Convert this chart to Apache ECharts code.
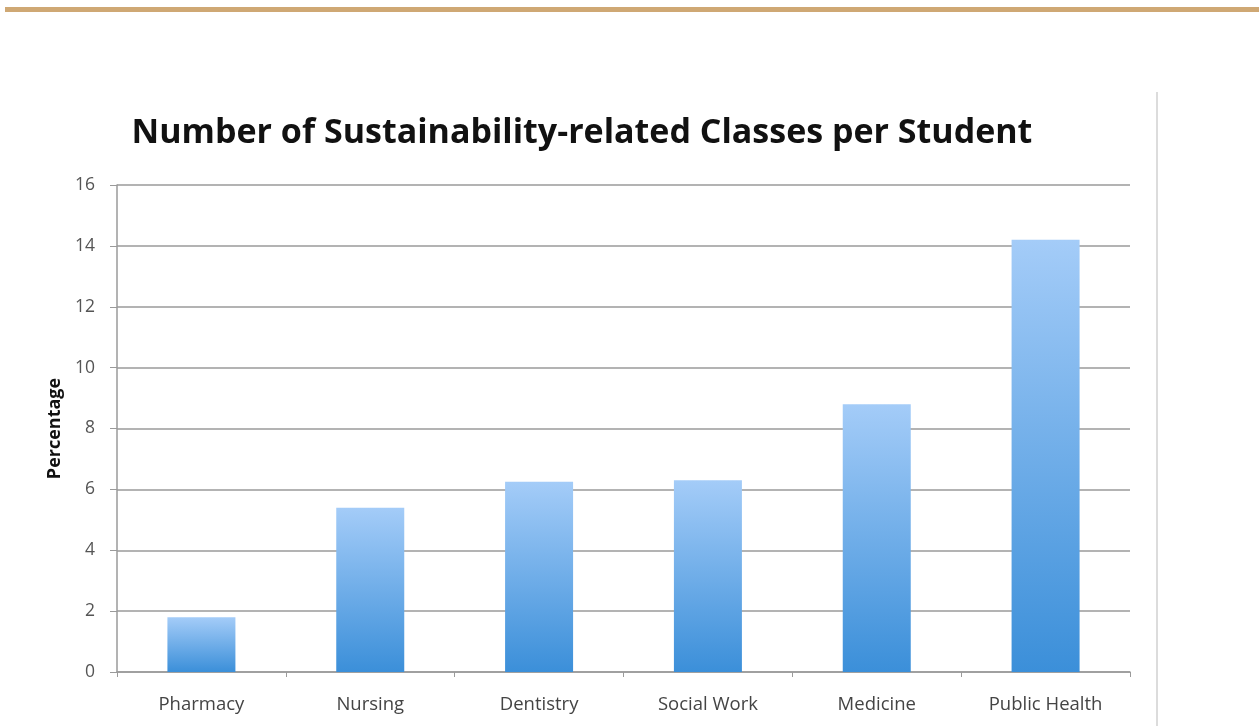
<!DOCTYPE html>
<html>
<head>
<meta charset="utf-8">
<script src="https://cdn.jsdelivr.net/npm/echarts@6/dist/echarts.min.js"></script>
<style>
  html, body { margin: 0; padding: 0; background: #fff; }
  #topbar { position: absolute; left: 5px; top: 7px; width: 1254px; height: 5px; background: #cfa874; }
  #divider { position: absolute; left: 1156px; top: 92px; width: 2px; height: 634px; background: #dcdcdc; }
  #chart { position: absolute; left: 0; top: 0; width: 1259px; height: 726px; }
</style>
</head>
<body>
<div id="topbar"></div>
<div id="divider"></div>
<div id="chart"></div>
<script>
// Schools surveyed and their sustainability-related classes per student
const categories = ['Pharmacy', 'Nursing', 'Dentistry', 'Social Work', 'Medicine', 'Public Health'];
const classesPerStudent = [1.8, 5.4, 6.25, 6.3, 8.8, 14.2];
const yTicks = [0, 2, 4, 6, 8, 10, 12, 14, 16];

const chart = echarts.init(document.getElementById('chart'));
chart.setOption({
  animation: false,
  title: {
    text: 'Number of Sustainability-related Classes per Student',
    left: 577,
    textAlign: 'center',
    top: 111,
    textStyle: { fontFamily: 'Open Sans', fontWeight: 'bold', fontSize: 34, color: '#111' }
  },
  grid: { left: 117, right: 129, top: 185, bottom: 54 },
  xAxis: {
    type: 'category',
    data: categories,
    axisLine: { lineStyle: { color: '#9a9a9a', width: 1.5 } },
    axisTick: { show: true, length: 5, lineStyle: { color: '#9a9a9a' } },
    axisLabel: { fontFamily: 'Open Sans', fontSize: 18.5, color: '#444', margin: 23 }
  },
  yAxis: {
    type: 'value',
    min: yTicks[0],
    max: yTicks[yTicks.length - 1],
    interval: 2,
    name: 'Percentage',
    nameLocation: 'middle',
    nameGap: 50,
    nameRotate: 90,
    nameTextStyle: { fontFamily: 'Open Sans', fontWeight: 'bold', fontSize: 18, color: '#111' },
    axisLine: { show: true, lineStyle: { color: '#9a9a9a', width: 1.5 } },
    axisTick: { show: true, length: 7, lineStyle: { color: '#9a9a9a' } },
    axisLabel: { fontFamily: 'Open Sans', fontSize: 17.5, color: '#555', margin: 22 },
    splitLine: { lineStyle: { color: '#9a9a9a', width: 1.5 } }
  },
  series: [{
    type: 'bar',
    data: classesPerStudent,
    barWidth: 68,
    itemStyle: {
      color: new echarts.graphic.LinearGradient(0, 0, 0, 1, [
        { offset: 0, color: '#a4ccf8' },
        { offset: 1, color: '#3b8fd9' }
      ])
    }
  }]
});
</script>
</body>
</html>
